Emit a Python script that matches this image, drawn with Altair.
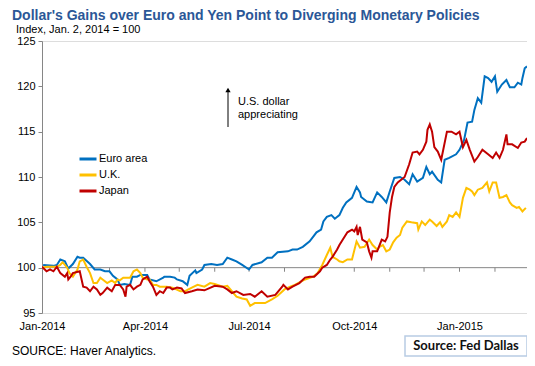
import altair as alt
import pandas as pd

# ---- data (day offsets from 2014-01-01, index values) ----
euro_day = [1,10,13,16,20,23,27,31,33,36,42,46,51,55,59,62,66,68,72,77,79,83,86,92,94,100,106,107,112,116,
            118,123,127,129,134,135,140,142,148,153,158,162,166,170,175,181,184,192,197,201,206,215,219,223,228,
            234,240,244,246,249,253,256,260,263,266,271,275,278,279,284,289,293,297,301,304,308,313,317,321,324,
            328,333,336,339,341,346,349,352,356,362,365,369,372,376,378,381,384,387,390,393,396,398,402,406,409,
            413,416,419,420,422,424]
euro_val = [100.3,100.2,100.3,100.9,100.7,99.9,100.4,101.2,101.1,101.1,100.4,99.8,99.8,99.6,99.6,99.1,98.7,98.1,98.2,98.1,
            99.0,99.0,99.2,99.2,98.7,98.5,98.9,99.0,99.0,98.9,98.7,98.5,98.1,99.1,99.7,99.4,99.8,100.3,100.4,100.3,
            100.4,101.1,100.9,100.7,100.3,99.8,100.3,100.6,101.1,101.1,101.7,101.8,102.0,102.0,102.3,102.9,103.9,104.2,105.1,105.6,
            105.8,105.4,105.8,106.6,107.2,107.7,108.9,108.3,107.8,107.3,107.2,108.3,107.8,107.2,108.4,109.9,110.0,109.7,109.2,110.3,
            109.5,109.9,111.1,110.3,110.6,109.7,109.4,111.9,112.1,112.5,113.0,114.1,116.0,116.1,117.4,118.7,118.2,121.1,120.9,120.5,
            121.1,119.4,120.2,120.7,119.9,119.9,120.4,120.2,120.9,122.0,122.2]

uk_day = [0,4,13,16,18,22,24,27,31,33,36,39,42,45,48,51,53,57,61,64,66,68,71,77,80,83,86,88,92,94,
          97,100,103,109,114,121,125,131,136,142,147,151,158,162,166,170,175,179,182,186,195,201,206,212,217,221,230,237,241,245,
          249,252,254,258,260,263,267,271,275,278,282,286,289,293,295,298,301,304,307,310,313,315,319,323,328,329,332,335,339,341,
          345,348,350,354,356,359,362,365,368,371,374,376,378,381,385,389,391,394,397,400,403,406,409,411,415,417,420,423]
uk_val = [100.0,100.1,100.1,100.3,100.6,100.0,99.4,99.0,99.8,100.7,100.9,100.1,99.4,98.3,98.3,98.9,98.7,98.3,98.6,98.3,
          98.7,98.6,98.9,98.9,99.6,99.8,99.4,98.9,98.7,98.7,98.1,98.1,97.9,97.9,97.8,97.4,97.4,97.8,98.1,97.9,
          98.3,98.2,97.9,98.0,97.4,96.8,96.6,96.5,95.8,96.1,96.1,96.5,96.9,97.6,97.9,98.1,98.7,99.0,99.4,100.3,
          101.4,102.2,101.2,100.9,100.7,100.6,100.9,100.9,102.9,102.2,102.3,103.1,102.5,102.0,102.3,102.5,101.8,102.0,102.8,103.3,
          103.6,104.4,105.1,105.0,104.9,104.2,105.1,104.7,105.3,105.1,104.6,105.0,104.5,105.1,105.8,105.6,106.1,105.6,107.7,108.8,
          108.6,108.4,108.0,108.6,108.8,109.4,108.4,109.4,109.4,107.7,107.8,108.0,107.2,106.9,106.6,106.7,106.2,106.6]

japan_day = [0,4,7,10,13,16,20,22,23,25,27,33,36,39,42,45,48,51,53,57,61,64,68,71,73,74,77,80,83,86,
             88,92,94,97,100,103,106,109,112,114,118,122,125,131,136,142,151,158,162,166,170,176,182,186,192,197,204,210,211,215,
             219,225,230,234,238,243,245,249,252,254,258,260,263,267,271,273,275,276,278,280,284,286,288,289,293,297,300,302,304,306,
             308,311,314,317,321,324,328,330,333,336,337,339,341,343,346,349,354,358,362,365,368,371,374,378,381,385,390,394,397,400,
             403,406,407,411,416,419,422,424]
japan_val = [100.1,99.6,99.8,99.6,100.1,99.4,99.0,99.4,98.7,99.0,99.4,99.6,97.9,97.8,97.4,97.9,97.6,97.0,97.2,97.8,
             97.4,98.1,98.1,97.6,96.8,97.9,98.1,97.6,97.9,98.1,98.7,99.0,98.5,97.9,97.0,97.4,97.2,97.8,97.8,97.6,
             97.8,97.7,97.2,97.4,97.6,97.5,98.0,97.9,97.6,97.2,97.4,97.0,97.1,96.8,97.4,96.8,97.0,97.9,98.1,97.6,
             97.9,98.3,98.9,99.0,99.0,99.6,100.0,100.3,100.9,101.2,102.0,102.5,103.1,103.9,104.2,104.0,104.5,103.6,104.5,103.1,
             102.8,101.8,101.1,101.8,101.8,103.1,102.9,103.4,106.1,107.8,108.9,109.4,109.7,110.0,111.4,112.7,112.8,112.5,113.0,113.9,
             115.2,115.8,115.0,113.3,112.8,111.9,115.0,115.0,114.7,115.0,113.3,114.1,113.0,111.7,112.2,113.0,112.5,112.1,112.7,112.1,
             113.0,114.7,113.6,113.6,113.2,113.8,113.9,114.3]

series_names = ["Euro area", "U.K.", "Japan"]
series_colors = ["#0070C0", "#FFC000", "#C00000"]

y_ticks = [95, 100, 105, 110, 115, 120, 125]
x_label_months = [(2014, 1), (2014, 4), (2014, 7), (2014, 10), (2015, 1)]
month_ticks = ["2014-02-01", "2014-03-01", "2014-04-01", "2014-05-01", "2014-06-01", "2014-07-01",
               "2014-08-01", "2014-09-01", "2014-10-01", "2014-11-01", "2014-12-01", "2015-01-01", "2015-02-01"]

title_text = "Dollar's Gains over Euro and Yen Point to Diverging Monetary Policies"
subtitle_text = "Index, Jan. 2, 2014 = 100"
source_text = "SOURCE: Haver Analytics."
badge_text = "Source: Fed Dallas"
note_line1 = "U.S. dollar"
note_line2 = "appreciating"

# ---- build table ----
base = pd.Timestamp("2014-01-01")


def to_dates(days):
    return [(base + pd.Timedelta(days=d)).strftime("%Y-%m-%d") for d in days]


frames = []
for name, days, vals in [("Euro area", euro_day, euro_val), ("U.K.", uk_day, uk_val), ("Japan", japan_day, japan_val)]:
    frames.append(pd.DataFrame({"date": to_dates(days), "value": vals, "series": name}))
df = pd.concat(frames, ignore_index=True)
df["order"] = range(len(df))

FONT = "Liberation Sans"
W, H = 485, 272

xscale = alt.Scale(type="utc", domain=[alt.DateTime(year=2014, month=1, date=1, utc=True),
                                       alt.DateTime(year=2015, month=3, date=1, utc=True)])
yscale = alt.Scale(domain=[95, 125], nice=False, zero=False)

x_axis = alt.Axis(
    values=[alt.DateTime(year=y, month=m, date=1, utc=True) for y, m in x_label_months],
    labelExpr="utcFormat(datum.value, '%b-%Y')",
    domain=False, ticks=False, grid=False, title=None, labelFlush=False, labelOverlap=False,
    labelFont=FONT, labelFontSize=11, labelColor="#000000", labelPadding=7,
)
y_axis = alt.Axis(
    values=y_ticks, domain=True, domainColor="#868686", tickColor="#868686", tickSize=4,
    grid=False, title=None, labelFont=FONT, labelFontSize=11, labelColor="#000000", labelPadding=3,
)

lines = alt.Chart(df).mark_line(strokeWidth=2, clip=True).encode(
    x=alt.X("date:T", scale=xscale, axis=x_axis),
    y=alt.Y("value:Q", scale=yscale, axis=y_axis),
    color=alt.Color("series:N", scale=alt.Scale(domain=series_names, range=series_colors),
                    legend=alt.Legend(title=None, orient="none", legendX=36, legendY=108, padding=0,
                                      symbolType="stroke", symbolSize=289, symbolStrokeWidth=3,
                                      rowPadding=0, labelOffset=1, labelFont=FONT, labelFontSize=11,
                                      labelColor="#000000")),
    order="order:Q",
)

base_line = alt.Chart(pd.DataFrame({"value": [100]})).mark_rule(color="#868686", strokeWidth=1).encode(
    y=alt.Y("value:Q", scale=yscale, axis=y_axis)
)

ticks_df = pd.DataFrame({"date": month_ticks, "value": 100, "bot": 99.55})
month_tick_marks = alt.Chart(ticks_df).mark_rule(color="#868686", strokeWidth=1).encode(
    x=alt.X("date:T", scale=xscale, axis=x_axis), y=alt.Y("value:Q", scale=yscale, axis=y_axis), y2="bot:Q"
)

arrow = alt.Chart(pd.DataFrame({"a": [0]})).mark_rule(color="#000000", strokeWidth=1).encode(
    x=alt.value(186), y=alt.value(49), y2=alt.value(86)
)
arrow_head = alt.Chart(pd.DataFrame({"a": [0]})).mark_point(
    shape="triangle-up", filled=True, color="#000000", size=28, opacity=1
).encode(x=alt.value(186), y=alt.value(49))

note1 = alt.Chart(pd.DataFrame({"t": [note_line1]})).mark_text(
    align="left", baseline="middle", font=FONT, fontSize=11, color="#000000"
).encode(text="t:N", x=alt.value(196), y=alt.value(61))
note2 = alt.Chart(pd.DataFrame({"t": [note_line2]})).mark_text(
    align="left", baseline="middle", font=FONT, fontSize=11, color="#000000"
).encode(text="t:N", x=alt.value(196), y=alt.value(74))

title = alt.Chart(pd.DataFrame({"t": [title_text]})).mark_text(
    align="left", baseline="alphabetic", font=FONT, fontSize=14, fontWeight="bold", color="#2B5797"
).encode(text="t:N", x=alt.value(-30), y=alt.value(-21))

subtitle = alt.Chart(pd.DataFrame({"t": [subtitle_text]})).mark_text(
    align="left", baseline="alphabetic", font=FONT, fontSize=11, color="#000000"
).encode(text="t:N", x=alt.value(-26), y=alt.value(-8))

source = alt.Chart(pd.DataFrame({"t": [source_text]})).mark_text(
    align="left", baseline="alphabetic", font=FONT, fontSize=12, color="#000000"
).encode(text="t:N", x=alt.value(-30), y=alt.value(314))

badge_box = alt.Chart(pd.DataFrame({"a": [0]})).mark_rect(
    fill="#FFFFFF", stroke="#B8CCE4", strokeWidth=1.5
).encode(x=alt.value(363), x2=alt.value(485), y=alt.value(295), y2=alt.value(315))

badge = alt.Chart(pd.DataFrame({"t": [badge_text]})).mark_text(
    align="center", baseline="middle", font="Lato", fontSize=13, fontWeight="bold", color="#111111"
).encode(text="t:N", x=alt.value(424), y=alt.value(305))

chart = alt.layer(
    base_line, month_tick_marks, lines, arrow, arrow_head, note1, note2, title, subtitle, source, badge_box, badge
).properties(
    width=W, height=H,
    autosize=alt.AutoSizeParams(type="none"),
    padding={"left": 34, "top": 33, "right": 0, "bottom": 45},
).configure_view(stroke=None).configure(background="#FFFFFF")

chart.save("out.html", embed_options={"renderer": "svg", "actions": False})
